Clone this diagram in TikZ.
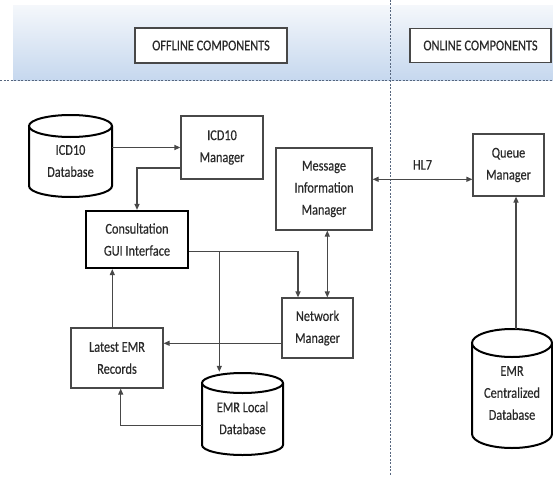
\documentclass[tikz,border=0pt]{standalone}
\usepackage{fontspec}
\setmainfont{Carlito}[FakeStretch=0.82,FakeBold=0.4]
\usetikzlibrary{arrows.meta,calc}
\definecolor{linec}{HTML}{484848}
\definecolor{txt}{HTML}{2A2A2A}
\definecolor{bandtop}{HTML}{F4F7FB}
\definecolor{bandbot}{HTML}{C5D7EE}
\definecolor{dashc}{HTML}{56667E}
\tikzset{
  lbl/.style={text=txt, align=center, inner sep=0pt, font=\fontsize{15}{22}\selectfont},
  box/.style={lbl, draw=linec, line width=1.2pt, fill=white},
  thickbox/.style={box, draw=black, line width=2.2pt},
  cylline/.style={draw=black, line width=2pt},
  conn/.style={draw=linec, line width=1.2pt, -{Triangle[length=6pt,width=5pt]}},
  conn2/.style={draw=linec, line width=1.2pt, {Triangle[length=6pt,width=5pt]}-{Triangle[length=6pt,width=5pt]}},
  sep/.style={draw=dashc, line width=1pt, dash pattern=on 2pt off 1.5pt}
}
\begin{document}
\begin{tikzpicture}[x=1pt,y=-1pt]
\useasboundingbox (0,0) rectangle (553,476);
\fill[white] (0,0) rectangle (553,476);
% header band
\shade[top color=bandtop, bottom color=bandbot] (13,6) rectangle (553,81);
\draw[sep] (0,81) -- (553,81);
\draw[sep] (390,0) -- (390,476);
\node[box, minimum width=152pt, minimum height=35pt] (off) at (211,45.5) {OFFLINE COMPONENTS};
\node[box, minimum width=141pt, minimum height=34pt] (on) at (480.5,45.5) {ONLINE COMPONENTS};

% ICD10 Database cylinder
\node[inner sep=0pt, minimum width=83pt, minimum height=82pt] (icddb) at (70.5,156) {};
\draw[cylline, fill=white] (29,126) -- (29,186) arc[start angle=180,end angle=360,x radius=41.5pt,y radius=11pt] -- (112,126);
\draw[cylline, fill=white] (70.5,126) ellipse [x radius=41.5pt, y radius=11pt];
\node[lbl] (icddbt) at (70.5,161) {ICD10\\Database};

% EMR Local Database cylinder
\node[inner sep=0pt, minimum width=81pt, minimum height=82pt] (localdb) at (242.5,414) {};
\draw[cylline, fill=white] (202,383) -- (202,445) arc[start angle=180,end angle=360,x radius=40.5pt,y radius=10pt] -- (283,383);
\draw[cylline, fill=white] (242.5,383) ellipse [x radius=40.5pt, y radius=10pt];
\node[lbl] (localdbt) at (242.5,418) {EMR Local\\Database};

% EMR Centralized Database cylinder
\node[inner sep=0pt, minimum width=80pt, minimum height=119pt] (central) at (512,388.5) {};
\draw[cylline, fill=white] (472,343) -- (472,434) arc[start angle=180,end angle=360,x radius=40pt,y radius=14pt] -- (552,343);
\draw[cylline, fill=white] (512,343) ellipse [x radius=40pt, y radius=14pt];
\node[lbl] (centralt) at (512,393) {EMR\\Centralized\\Database};

% boxes
\node[box, minimum width=82pt, minimum height=63pt] (icdm) at (222,147.5) {ICD10\\Manager};
\node[thickbox, minimum width=102pt, minimum height=57pt] (consult) at (137,239.5) {Consultation\\GUI Interface};
\node[box, minimum width=96pt, minimum height=82pt] (mim) at (324,189) {Message\\Information\\Manager};
\node[box, minimum width=71pt, minimum height=62pt] (queue) at (508.5,165) {Queue\\Manager};
\node[box, minimum width=71pt, minimum height=60pt] (net) at (317.5,328) {Network\\Manager};
\node[box, minimum width=92pt, minimum height=60pt] (latest) at (117,358) {Latest EMR\\Records};

% connectors
\draw[conn] (icdm.west -| icddb.east) -- (icdm.west);
\draw[conn] ($(icdm.west)+(0,20.5)$) -| (consult.north);
\coordinate (cout) at ($(consult.east)+(0,12.2)$);
\draw[conn] (cout) -| ($(net.north)+(-19.5,0)$);
\coordinate (br) at (219.3,251.7);
\draw[conn] (br) -- ($(br |- localdb.north)+(0,-1)$);
\draw[conn2] ($(mim.south)+(3.3,0)$) -- ($(net.north)+(9.8,0)$);
\draw[conn] ($(net.west)+(0,15.3)$) -- ($(latest.east)+(0,-14.7)$);
\draw[conn] ($(latest.north)+(-4.7,0)$) -- ($(consult.south)+(-24.7,0)$);
\draw[conn] ($(localdb.west)+(0,11.7)$) -| ($(latest.south)+(3.7,0)$);
\draw[conn2] ($(mim.east)+(0,-9.7)$) -- node[lbl, above=9pt, pos=0.5] (hl7) {HL7} ($(queue.west)+(0,14.3)$);
\draw[conn] ($(central.north)+(4,0.5)$) -- ($(queue.south)+(7.5,0)$);
\end{tikzpicture}
\end{document}
